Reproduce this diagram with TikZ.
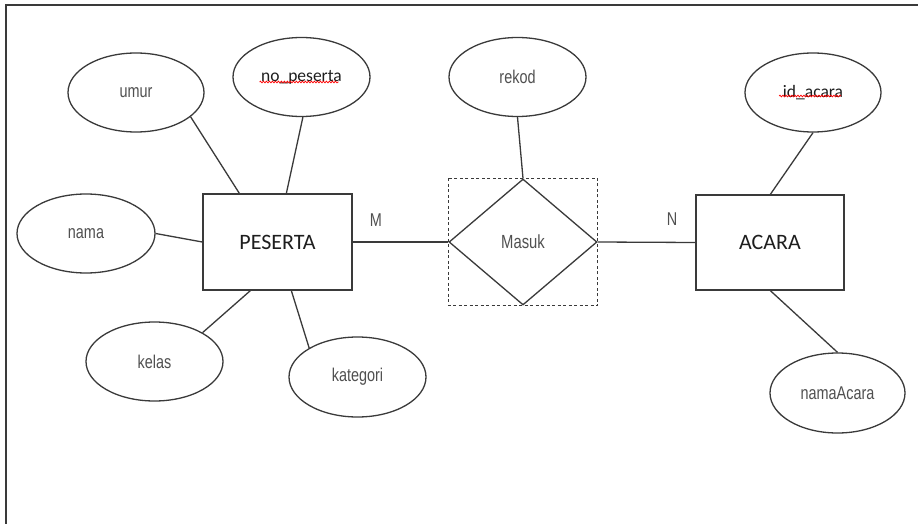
\documentclass[tikz,border=0pt]{standalone}
\usepackage{fontspec}
\setmainfont{Liberation Sans}
\newfontfamily\carlitofont{Carlito}
\newfontfamily\narrowfont[FakeStretch=0.78]{Liberation Sans}
\usetikzlibrary{shapes.geometric,decorations.pathmorphing}
\definecolor{ln}{HTML}{3A3A3A}
\definecolor{tx}{HTML}{505050}
\definecolor{dk}{HTML}{1E1E1E}
\begin{document}
\begin{tikzpicture}[x=1pt,y=-1pt,
  attr/.style={ellipse,draw=ln,line width=1.3pt,inner sep=0pt,minimum width=137pt,minimum height=79pt,font=\narrowfont\fontsize{18.5}{20}\selectfont,text=tx},
  keyattr/.style={attr,font=\carlitofont\fontsize{17.5}{19}\selectfont,text=dk},
  entity/.style={rectangle,draw=ln,line width=1.3pt,inner sep=0pt,font=\carlitofont\fontsize{22}{24}\selectfont,text=dk},
  rel/.style={diamond,draw=ln,line width=1.3pt,inner sep=0pt,minimum width=148pt,minimum height=126pt,font=\narrowfont\fontsize{19}{21}\selectfont,text=tx},
  conn/.style={draw=ln,line width=1.3pt},
  card/.style={font=\narrowfont\fontsize{18.5}{20}\selectfont,text=tx},
  squig/.style={draw=red,line width=0.7pt,decorate,decoration={snake,amplitude=0.9pt,segment length=3pt}}]
\useasboundingbox (0,0) rectangle (918,524);
\fill[white] (0,0) rectangle (918,524);
\draw[ln,line width=1.5pt] (6,540) -- (6,5) -- (930,5);

% entities and relationship
\node[entity,minimum width=149pt,minimum height=96pt] (pes) at (277.5,242) {PESERTA};
\node[entity,minimum width=148pt,minimum height=95pt] (aca) at (770,242.5) {ACARA};
\node[rel] (masuk) at (523,242) {Masuk};
\draw[ln,line width=1.1pt,dashed,dash pattern=on 3pt off 2.5pt] (masuk.west |- masuk.north) rectangle (masuk.east |- masuk.south);

% attributes
\node[attr,minimum width=136pt] (umur) at (136,92.5) {umur};
\node[keyattr] (nop) at (301.5,77) {no\_peserta};
\node[attr,minimum width=138pt] (nama) at (86,233.5) {nama};
\node[attr] (kelas) at (154.5,361.5) {kelas};
\node[attr,minimum height=80pt] (kat) at (357.5,377) {kategori};
\node[attr] (rekod) at (517.5,77) {rekod};
\node[keyattr,minimum width=136pt] (ida) at (813,92.5) {id\_acara};
\node[attr,minimum width=135pt,minimum height=80pt] (namaA) at (837.5,393) {namaAcara};

% spell-check squiggles
\draw[squig] ([xshift=-42pt,yshift=-5pt]nop.center) -- ([xshift=37pt,yshift=-5pt]nop.center);
\draw[squig] ([xshift=-34pt,yshift=-3.5pt]ida.center) -- ([xshift=28pt,yshift=-3.5pt]ida.center);

% connectors
\draw[conn] (umur.-24) -- ([xshift=37pt]pes.north west);
\draw[conn] (nop.-88) -- ([xshift=84pt]pes.north west);
\draw[conn] (nama.east) -- (pes.west);
\draw[conn] (kelas.31) -- ([xshift=48pt]pes.south west);
\draw[conn] (kat.149) -- ([xshift=89pt]pes.south west);
\draw[conn] (pes.east) -- (masuk.west);
\draw[conn] (masuk.east) -- (aca.west);
\draw[conn] (rekod.south) -- (masuk.north);
\draw[conn] (ida.south) -- ([xshift=75pt]aca.north west);
\draw[conn] ([xshift=75pt]aca.south west) -- (namaA.north);

% cardinalities
\node[card] (cm) at (376,220) {M};
\node[card] (cn) at (672,219) {N};
\end{tikzpicture}
\end{document}
